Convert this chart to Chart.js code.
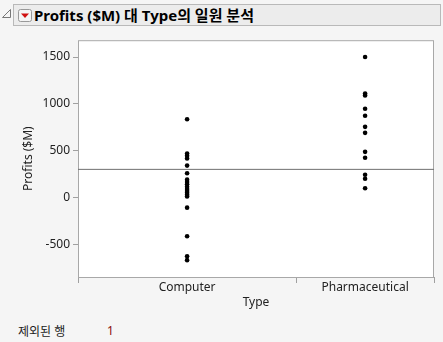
<!DOCTYPE html>
<html>
<head>
<meta charset="utf-8">
<script src="https://cdn.jsdelivr.net/npm/chart.js@4.4.1/dist/chart.umd.min.js"></script>
<style>
  body { margin: 0; background: #f5f5f5; width: 443px; height: 342px; overflow: hidden;
         font-family: "Noto Sans", "Noto Sans CJK KR", sans-serif; }
  #hdr { position: absolute; left: 13px; top: 4px; width: 426px; height: 20px;
         border: 1px solid #b9b9b9; background: #ececec; }
  #hdrTitle { position: absolute; left: 20px; top: -1px; font-weight: bold; font-size: 15px; color: #000;
              font-family: "Noto Sans", "Noto Sans CJK KR", sans-serif; white-space: nowrap; }
  #tri { position: absolute; left: 2px; top: 9px; }
  #btn { position: absolute; left: 18px; top: 9px; }
  #box { position: absolute; left: 0; top: 30px; width: 443px; height: 280px; }
  #excl { position: absolute; left: 18px; top: 322px; font-size: 12px; color: #222; }
  #exclN { position: absolute; left: 107px; top: 322px; font-size: 12px; color: #8b1010; }
</style>
</head>
<body>
<svg id="tri" width="10" height="10"><polygon points="8.5,0.5 8.5,8.5 0.5,8.5" fill="none" stroke="#777" stroke-width="1"/></svg>
<div id="hdr">
  <div id="hdrTitle">Profits ($M) 대 Type의 일원 분석</div>
</div>
<svg id="btn" width="14" height="13"><rect x="0.5" y="0.5" width="13" height="12" rx="2" fill="#f4f4f4" stroke="#999"/><polygon points="3,4.5 11,4.5 7,9" fill="#d01010"/></svg>
<div id="box"><canvas id="chart" width="443" height="280"></canvas></div>
<div id="excl">제외된 행</div>
<div id="exclN">1</div>

<script>
"use strict";

var groups = ["Computer", "Pharmaceutical"];
var computerProfits = [835, 470, 445, 417, 340, 259, 190, 165, 140, 115, 90, 70, 50, 30, 10, -109, -415, -628, -670];
var pharmaProfits = [1500, 1110, 1090, 947, 873, 754, 690, 487, 424, 242, 200, 98];
var grandMean = 300;
var yTicks = [-500, 0, 500, 1000, 1500];

// JMP makes each group's width proportional to its count
var nComp = computerProfits.length;
var nPharma = pharmaProfits.length;
var nAll = nComp + nPharma;
var compCenter = nComp / 2;
var pharmaCenter = nComp + nPharma / 2;

var compPts = computerProfits.map(function (v) { return { x: compCenter, y: v }; });
var pharmaPts = pharmaProfits.map(function (v) { return { x: pharmaCenter, y: v }; });

var frame = {
  id: "frame",
  beforeDatasetsDraw: function (chart) {
    var a = chart.chartArea, c = chart.ctx;
    c.save();
    c.fillStyle = "#ffffff";
    c.fillRect(a.left, a.top, a.right - a.left, a.bottom - a.top);
    c.strokeStyle = "#a8a8a8";
    c.lineWidth = 1;
    c.strokeRect(a.left + 0.5, a.top + 0.5, a.right - a.left - 1, a.bottom - a.top);
    c.restore();
  }
};

var grayTick = "#a0a0a0";

new Chart(document.getElementById("chart"), {
  type: "scatter",
  data: {
    datasets: [
      { type: "line", data: [{ x: 0, y: grandMean }, { x: nAll, y: grandMean }],
        borderColor: "#707070", borderWidth: 1, pointRadius: 0 },
      { data: compPts, backgroundColor: "#000", borderColor: "#000", pointRadius: 2.3, borderWidth: 0 },
      { data: pharmaPts, backgroundColor: "#000", borderColor: "#000", pointRadius: 2.3, borderWidth: 0 }
    ]
  },
  options: {
    responsive: false,
    animation: false,
    devicePixelRatio: 1,
    layout: { padding: { left: 0, right: 9, top: 7, bottom: 0 } },
    plugins: { legend: { display: false }, tooltip: { enabled: false } },
    scales: {
      x: {
        type: "linear", min: 0, max: nAll,
        afterBuildTicks: function (s) {
          s.ticks = [{ value: 0 }, { value: compCenter }, { value: nComp }, { value: pharmaCenter }, { value: nAll }];
        },
        afterFit: function (s) { s.height = 33; },
        ticks: {
          autoSkip: false, maxRotation: 0, padding: -3, color: "#222",
          font: { family: "'Noto Sans', sans-serif", size: 12 },
          callback: function (v) {
            if (v === compCenter) return groups[0];
            if (v === pharmaCenter) return groups[1];
            return "";
          }
        },
        grid: {
          drawOnChartArea: false, tickLength: 6,
          color: function (ctx) {
            var v = ctx.tick ? ctx.tick.value : null;
            return (v === compCenter || v === pharmaCenter) ? "rgba(0,0,0,0)" : grayTick;
          }
        },
        border: { display: false },
        title: { display: true, text: "Type", color: "#222", padding: { top: 0, bottom: 0 },
                 font: { family: "'Noto Sans', sans-serif", size: 12 } }
      },
      y: {
        min: -850, max: 1680,
        afterBuildTicks: function (s) { s.ticks = yTicks.map(function (v) { return { value: v }; }); },
        afterFit: function (s) { s.width = 78; },
        ticks: { padding: 3, color: "#222", font: { family: "'Noto Sans', sans-serif", size: 12 },
                 callback: function (v) { return String(v); } },
        grid: { drawOnChartArea: false, tickLength: 5, color: grayTick },
        border: { display: false },
        title: { display: true, text: "Profits ($M)", color: "#222", padding: { top: 21, bottom: 0 },
                 font: { family: "'Noto Sans', sans-serif", size: 12 } }
      }
    }
  },
  plugins: [frame]
});
</script>
</body>
</html>
